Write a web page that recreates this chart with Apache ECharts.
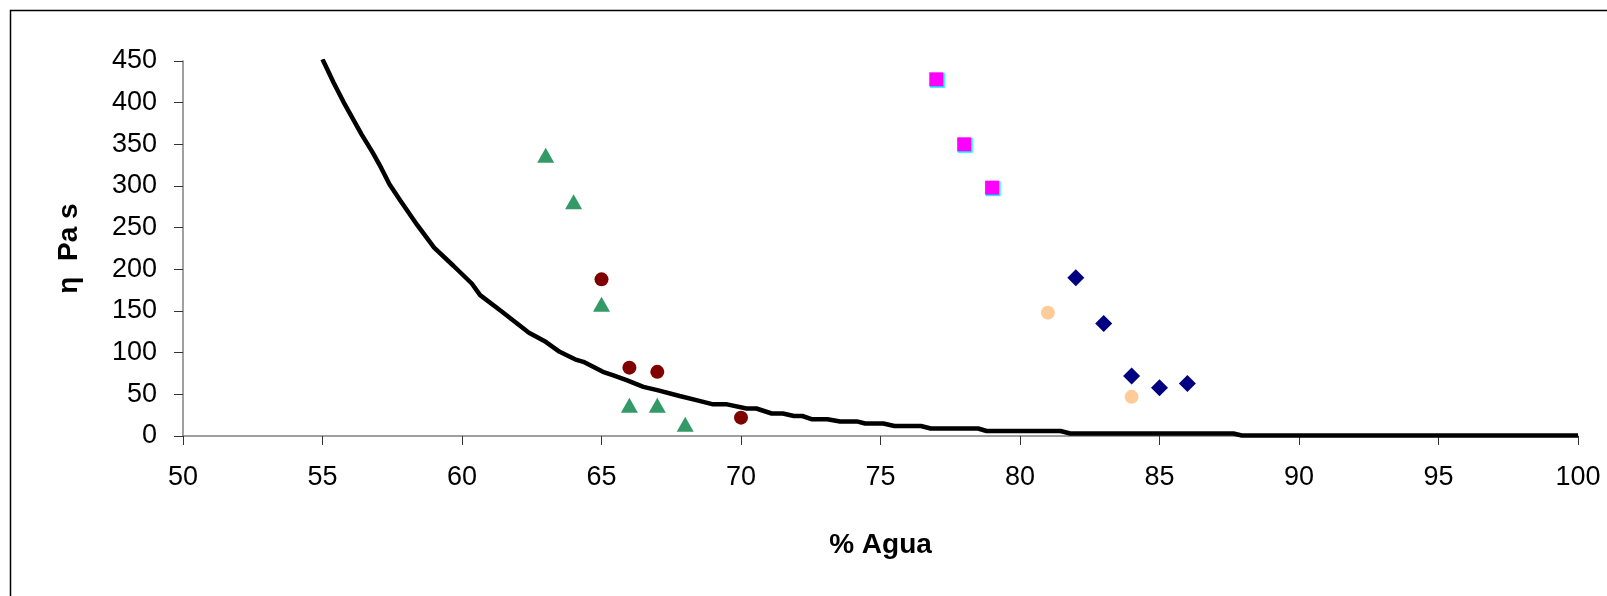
<!DOCTYPE html>
<html>
<head>
<meta charset="utf-8">
<script src="https://cdn.jsdelivr.net/npm/echarts@6/dist/echarts.min.js"></script>
<style>
  html, body { margin: 0; padding: 0; background: #fff; }
  #myChart { width: 1607px; height: 596px; }
</style>
</head>
<body>
<div id="myChart"></div>
<script>
// curva de ajuste (% agua, viscosidad)
var curveX = [55.0, 55.4, 55.75, 56.1, 56.4, 56.8, 57.1, 57.4, 57.8, 58.4, 59.0, 59.7, 60.35, 60.65,
  61.4, 62.4, 63.0, 63.5, 64.05, 64.35, 65.05, 65.4, 65.9, 66.5, 67.0, 67.8, 68.4, 69.0, 69.5,
  70.2, 70.55, 71.1, 71.5, 71.9, 72.2, 72.55, 73.1, 73.55, 74.15, 74.45, 75.1, 75.5, 76.45,
  76.8, 78.5, 78.8, 81.45, 81.8, 87.65, 87.95, 100];
var curveY = [452, 424, 401, 380, 362, 340, 322, 302, 282, 253, 226, 204, 183, 169,
  150, 124, 113, 101, 92, 89, 77, 73, 67, 59, 55, 48, 43, 38, 38,
  33, 33, 27, 27, 24, 24, 20, 20, 17.5, 17.5, 15, 15, 12, 12,
  9, 9, 6, 6, 3, 3, 0.6, 0.6];

// puntos experimentales
var trianX = [63, 64, 65, 66, 67, 68];
var trianY = [337, 281, 158, 37, 37, 14];
var rojoX = [65, 66, 67, 70];
var rojoY = [188, 82, 77, 22];
var cuadX = [77, 78, 79];
var cuadY = [428, 350, 298];
var rombX = [82, 83, 84, 85, 86];
var rombY = [190, 135, 72, 58, 63];
var melonX = [81, 84];
var melonY = [148, 47];

var xTicks = { min: 50, max: 100, interval: 5 };
var yTicks = { min: 0, max: 450, interval: 50 };

function pares(xs, ys) {
  var out = [];
  for (var i = 0; i < xs.length; i++) {
    out.push([xs[i], ys[i]]);
  }
  return out;
}

var myChart = echarts.init(document.getElementById("myChart"));

var labelFont = {
  color: "#000",
  fontFamily: "Liberation Sans, Arial",
  fontSize: 27
};

var option = {
  animation: false,
  graphic: [
    {
      type: "rect",
      shape: { x: 10.5, y: 10.5, width: 1700, height: 700 },
      style: { fill: "none", stroke: "#000", lineWidth: 1.5 },
      silent: true
    }
  ],
  grid: {
    left: 183,
    top: 61,
    right: 29,
    bottom: 160
  },
  xAxis: {
    type: "value",
    min: xTicks.min,
    max: xTicks.max,
    interval: xTicks.interval,
    name: "% Agua",
    nameLocation: "middle",
    nameGap: 95,
    nameTextStyle: {
      color: "#000",
      fontFamily: "Liberation Sans, Arial",
      fontWeight: "bold",
      fontSize: 28
    },
    splitLine: { show: false },
    axisLine: { onZero: false, lineStyle: { color: "#808080", width: 1.5 } },
    axisTick: { length: 9, lineStyle: { color: "#333", width: 1 } },
    axisLabel: Object.assign({ margin: 28 }, labelFont)
  },
  yAxis: {
    type: "value",
    min: yTicks.min,
    max: yTicks.max,
    interval: yTicks.interval,
    name: "η  Pa s",
    nameLocation: "middle",
    nameGap: 100,
    nameRotate: 90,
    nameTextStyle: {
      color: "#000",
      fontFamily: "Liberation Sans, Arial",
      fontWeight: "bold",
      fontSize: 28
    },
    splitLine: { show: false },
    axisLine: { show: true, lineStyle: { color: "#808080", width: 1.5 } },
    axisTick: { show: true, length: 9, lineStyle: { color: "#333", width: 1 } },
    axisLabel: Object.assign({ margin: 26 }, labelFont)
  },
  series: [
    {
      name: "curva",
      type: "line",
      data: pares(curveX, curveY),
      showSymbol: false,
      smooth: false,
      clip: true,
      z: 1,
      lineStyle: { color: "#000", width: 4.5 }
    },
    {
      name: "triangulos",
      type: "scatter",
      symbol: "triangle",
      symbolSize: [17, 15],
      data: pares(trianX, trianY),
      itemStyle: { color: "#339966", opacity: 1 },
      z: 3
    },
    {
      name: "circulos",
      type: "scatter",
      symbol: "circle",
      symbolSize: 14,
      data: pares(rojoX, rojoY),
      itemStyle: { color: "#800000", opacity: 1 },
      z: 3
    },
    {
      name: "cuadrados fondo",
      type: "scatter",
      symbol: "rect",
      symbolSize: 15,
      symbolOffset: [1, 1],
      data: pares(cuadX, cuadY),
      itemStyle: { color: "#00FFFF", opacity: 1 },
      z: 3
    },
    {
      name: "cuadrados",
      type: "scatter",
      symbol: "rect",
      symbolSize: 14,
      data: pares(cuadX, cuadY),
      itemStyle: { color: "#FF00FF", opacity: 1 },
      z: 4
    },
    {
      name: "rombos",
      type: "scatter",
      symbol: "diamond",
      symbolSize: 17,
      data: pares(rombX, rombY),
      itemStyle: { color: "#000080", opacity: 1 },
      z: 3
    },
    {
      name: "melon",
      type: "scatter",
      symbol: "circle",
      symbolSize: 14,
      data: pares(melonX, melonY),
      itemStyle: { color: "#FFCC99", opacity: 1 },
      z: 3
    }
  ]
};
myChart.setOption(option);
</script>
</body>
</html>
